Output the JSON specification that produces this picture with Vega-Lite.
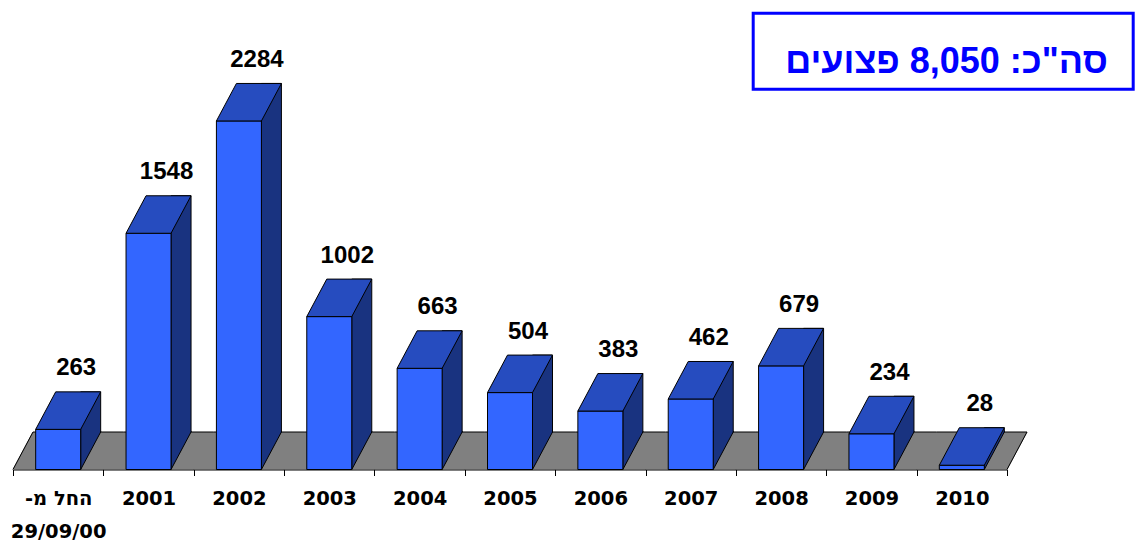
{
  "$schema": "https://vega.github.io/schema/vega-lite/v6.json",
  "autosize": "none",
  "width": 994,
  "height": 381.5,
  "padding": {"left": 13, "top": 88, "right": 130, "bottom": 73.5},
  "background": "white",
  "config": {"view": {"stroke": null}, "legend": {"strokeWidth": 3}},
  "data": {
    "values": [
      {"period": "החל מ-\n29/09/00", "injured": 263},
      {"period": "2001", "injured": 1548},
      {"period": "2002", "injured": 2284},
      {"period": "2003", "injured": 1002},
      {"period": "2004", "injured": 663},
      {"period": "2005", "injured": 504},
      {"period": "2006", "injured": 383},
      {"period": "2007", "injured": 462},
      {"period": "2008", "injured": 679},
      {"period": "2009", "injured": 234},
      {"period": "2010", "injured": 28}
    ]
  },
  "encoding": {
    "x": {
      "field": "period",
      "type": "nominal",
      "sort": null,
      "scale": {"paddingInner": 0, "paddingOuter": 0},
      "axis": {
        "title": null,
        "zindex": 1,
        "domain": true,
        "domainColor": "#000000",
        "domainWidth": 1,
        "ticks": true,
        "tickBand": "extent",
        "tickColor": "#000000",
        "tickSize": 6,
        "tickWidth": 1,
        "labelAngle": 0,
        "labelFont": "DejaVu Sans",
        "labelFontWeight": "bold",
        "labelFontSize": 19.5,
        "labelColor": "#000000",
        "labelPadding": 14,
        "labelLineHeight": 33,
        "labelOverlap": false,
        "labelExpr": "split(replace(datum.label, '-\\n', '-\u200f\\n'), '\\n')"
      }
    },
    "y": {
      "field": "injured",
      "type": "quantitative",
      "scale": {"domain": [0, 2500], "nice": false, "zero": true},
      "axis": null
    }
  },
  "layer": [
    {
      "mark": {"type": "point", "shape": "M -45.7,0 L 45.7,0 L 65.7,-37.5 L -25.7,-37.5 Z", "size": 4, "filled": true, "fill": "#808080", "strokeWidth": 0, "opacity": 1},
      "encoding": {"y": {"datum": 0, "type": "quantitative"}}
    },
    {
      "mark": {"type": "point", "shape": "M -25.18,-37.5 L 65.18,-37.5", "size": 4, "filled": false, "stroke": "#000000", "strokeWidth": 1, "opacity": 1},
      "encoding": {"y": {"datum": 0, "type": "quantitative"}}
    },
    {
      "transform": [{"filter": "indexof(datum.period, '29/09/00') >= 0"}],
      "mark": {"type": "point", "shape": "M -45.18,0 L -25.18,-37.5", "size": 4, "filled": false, "stroke": "#000000", "strokeWidth": 1, "opacity": 1},
      "encoding": {"y": {"datum": 0, "type": "quantitative"}}
    },
    {
      "transform": [{"filter": "datum.period === '2010'"}],
      "mark": {"type": "point", "shape": "M 45.18,0 L 65.18,-37.5", "size": 4, "filled": false, "stroke": "#000000", "strokeWidth": 1, "opacity": 1},
      "encoding": {"y": {"datum": 0, "type": "quantitative"}}
    },
    {
      "mark": {"type": "bar", "width": 20, "xOffset": 32.5, "yOffset": -37.5, "y2Offset": -37.5, "fill": "#193380", "stroke": "#000000", "strokeWidth": 1},
      "encoding": {"y2": {"datum": 0}}
    },
    {
      "mark": {"type": "point", "shape": "M 22.5,-38.5 L 22.5,0 L 42.5,-37.5 L 42.5,-38.5", "size": 4, "filled": true, "fill": "#193380", "stroke": "#000000", "strokeWidth": 1, "opacity": 1},
      "encoding": {"y": {"datum": 0, "type": "quantitative"}}
    },
    {
      "mark": {"type": "bar", "width": 45, "fill": "#3366FF", "stroke": "#000000", "strokeWidth": 1}
    },
    {
      "mark": {"type": "point", "shape": "M -22.5,0 L 22.5,0 L 42.5,-37.5 L -2.5,-37.5 Z", "size": 4, "filled": true, "fill": "#264CBF", "stroke": "#000000", "strokeWidth": 1, "opacity": 1}
    },
    {
      "mark": {"type": "text", "font": "Liberation Sans", "fontWeight": "bold", "fontSize": 24, "color": "#000000", "align": "center", "baseline": "alphabetic", "dx": 18, "dy": -54},
      "encoding": {"text": {"field": "injured", "type": "quantitative"}}
    },
    {
      "mark": {"type": "point", "opacity": 0},
      "encoding": {
        "color": {
          "datum": "סה\"כ: 8,050 פצועים",
          "scale": {"range": ["#0000FF"]},
          "legend": {
            "orient": "none",
            "legendX": 740.2,
            "legendY": -74.8,
            "title": "\u00a0",
            "titleFontSize": 1,
            "titlePadding": 20,
            "padding": 5,
            "strokeColor": "#0000FF",
            "symbolType": "square",
            "symbolSize": 2025,
            "symbolOpacity": 0,
            "symbolStrokeWidth": 0,
            "labelOffset": -18,
            "labelFont": "Liberation Sans",
            "labelFontWeight": "bold",
            "labelFontSize": 36,
            "labelColor": "#0000FF",
            "labelLimit": 0,
            "labelExpr": "datum.label + '\u00a0\u00a0\u200e'"
          }
        }
      }
    }
  ]
}
